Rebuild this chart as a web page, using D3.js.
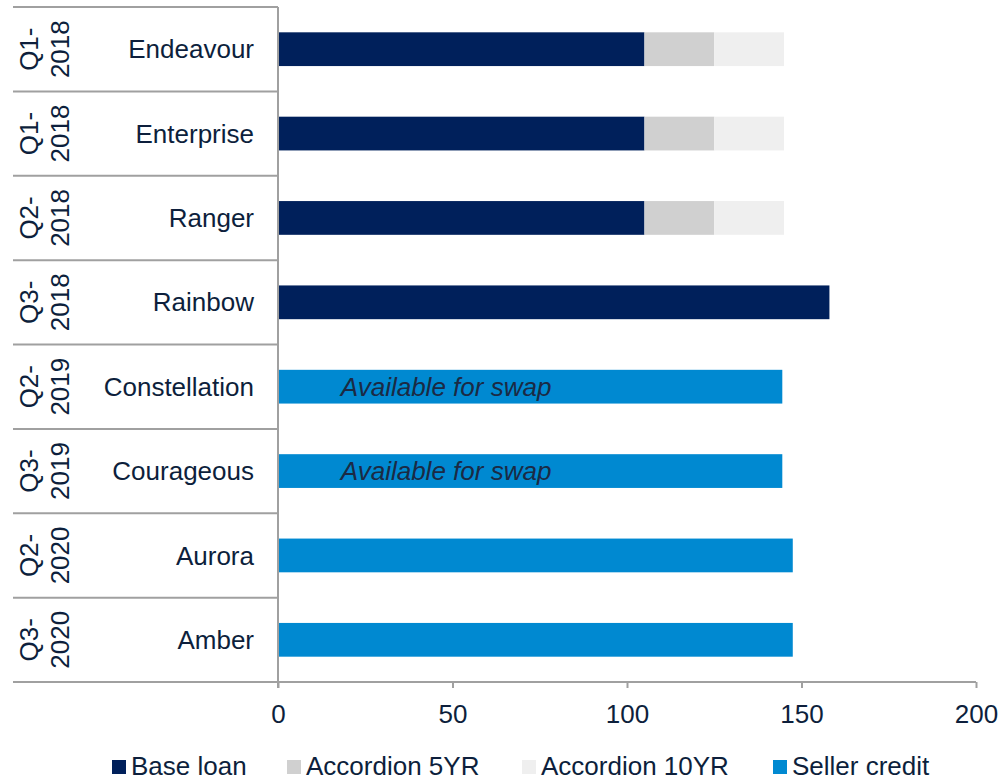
<!DOCTYPE html>
<html>
<head>
<meta charset="utf-8">
<script src="https://cdn.jsdelivr.net/npm/d3@7"></script>
<style>
  body { margin: 0; background: #fff; }
  text { font-family: "Liberation Sans", Arial, sans-serif; fill: #0d1f3c; }
</style>
</head>
<body>
<div class="chart"></div>
<script>
// Data
var vessels = ["Endeavour", "Enterprise", "Ranger", "Rainbow", "Constellation", "Courageous", "Aurora", "Amber"];
var quarters = ["Q1-", "Q1-", "Q2-", "Q3-", "Q2-", "Q3-", "Q2-", "Q3-"];
var years = ["2018", "2018", "2018", "2018", "2019", "2019", "2020", "2020"];
var baseLoan = [105, 105, 105, 158, 0, 0, 0, 0];
var accordion5 = [20, 20, 20, 0, 0, 0, 0, 0];
var accordion10 = [20, 20, 20, 0, 0, 0, 0, 0];
var sellerCredit = [0, 0, 0, 0, 144.5, 144.5, 147.5, 147.5];
var notes = ["", "", "", "", "Available for swap", "Available for swap", "", ""];
var xTicks = [0, 50, 100, 150, 200];

var seriesNames = ["Base loan", "Accordion 5YR", "Accordion 10YR", "Seller credit"];
var seriesColors = ["#00205b", "#d0d0d0", "#efefef", "#0089d1"];

var width = 1007, height = 780;
var svg = d3.select(".chart").append("svg")
  .attr("width", width)
  .attr("height", height);

// scales
var x = d3.scaleLinear().domain([0, 200]).range([278, 976]);
var y = d3.scaleBand().domain(vessels).range([7, 682]).paddingInner(0.6).paddingOuter(0.3);
var rowH = (682 - 7) / vessels.length;

// build stacked data
var table = vessels.map(function(v, i) {
  return { name: v, "Base loan": baseLoan[i], "Accordion 5YR": accordion5[i],
           "Accordion 10YR": accordion10[i], "Seller credit": sellerCredit[i] };
});
var stack = d3.stack().keys(seriesNames);
var layers = stack(table);

svg.selectAll("g.layer")
  .data(layers)
  .enter().append("g")
  .attr("class", "layer")
  .attr("fill", function(d, i) { return seriesColors[i]; })
  .selectAll("rect")
  .data(function(d) { return d; })
  .enter().append("rect")
  .attr("x", function(d) { return x(d[0]); })
  .attr("y", function(d) { return y(d.data.name); })
  .attr("width", function(d) { return x(d[1]) - x(d[0]); })
  .attr("height", y.bandwidth());

// notes inside bars
svg.selectAll("text.note")
  .data(vessels)
  .enter().append("text")
  .attr("class", "note")
  .attr("x", x(18))
  .attr("y", function(d) { return y(d) + y.bandwidth() / 2; })
  .attr("dy", "0.35em")
  .style("font-size", "26px")
  .style("font-style", "italic")
  .style("fill", "#1b2a44")
  .text(function(d, i) { return notes[i]; });

// row separators on the left
var seps = d3.range(vessels.length + 1);
svg.selectAll("line.sep")
  .data(seps)
  .enter().append("line")
  .attr("class", "sep")
  .attr("x1", 13)
  .attr("x2", 278)
  .attr("y1", function(d) { return 7 + d * rowH; })
  .attr("y2", function(d) { return 7 + d * rowH; })
  .attr("stroke", "#a0a0a0")
  .attr("stroke-width", 2);

// vessel labels
svg.selectAll("text.vessel")
  .data(vessels)
  .enter().append("text")
  .attr("class", "vessel")
  .attr("x", 254)
  .attr("y", function(d) { return y(d) + y.bandwidth() / 2; })
  .attr("dy", "0.35em")
  .attr("text-anchor", "end")
  .style("font-size", "26px")
  .text(function(d) { return d; });

// rotated quarter labels
var qg = svg.selectAll("g.quarter")
  .data(vessels)
  .enter().append("g")
  .attr("class", "quarter")
  .attr("transform", function(d) { return "translate(0," + (y(d) + y.bandwidth() / 2) + ") rotate(-90)"; });
qg.append("text")
  .attr("text-anchor", "middle")
  .attr("y", 38)
  .style("font-size", "26px")
  .text(function(d, i) { return quarters[i]; });
qg.append("text")
  .attr("text-anchor", "middle")
  .attr("y", 69)
  .style("font-size", "26px")
  .text(function(d, i) { return years[i]; });

// y axis line
svg.append("line")
  .attr("x1", 278).attr("x2", 278)
  .attr("y1", 7).attr("y2", 688)
  .attr("stroke", "#a0a0a0")
  .attr("stroke-width", 2);

// x axis
var xAxis = svg.append("g")
  .attr("transform", "translate(0,682)")
  .call(d3.axisBottom(x).tickValues(xTicks).tickSize(6).tickPadding(17).tickSizeOuter(0));
xAxis.select(".domain").attr("stroke", "#a0a0a0").attr("stroke-width", 2)
  .attr("d", "M13,0H976");
xAxis.selectAll(".tick line").attr("stroke", "#a0a0a0").attr("stroke-width", 2);
xAxis.selectAll(".tick text")
  .style("font-size", "26px")
  .style("font-family", "'Liberation Sans', Arial, sans-serif")
  .attr("fill", "#0d1f3c");

// legend
var legendX = [112, 287, 522, 773];
var legend = svg.selectAll("g.legend")
  .data(seriesNames)
  .enter().append("g")
  .attr("class", "legend")
  .attr("transform", function(d, i) { return "translate(" + legendX[i] + ",775)"; });
legend.append("rect")
  .attr("x", 0)
  .attr("y", -15)
  .attr("width", 14)
  .attr("height", 14)
  .attr("fill", function(d, i) { return seriesColors[i]; });
legend.append("text")
  .attr("x", 19)
  .style("font-size", "26px")
  .text(function(d) { return d; });
</script>
</body>
</html>
